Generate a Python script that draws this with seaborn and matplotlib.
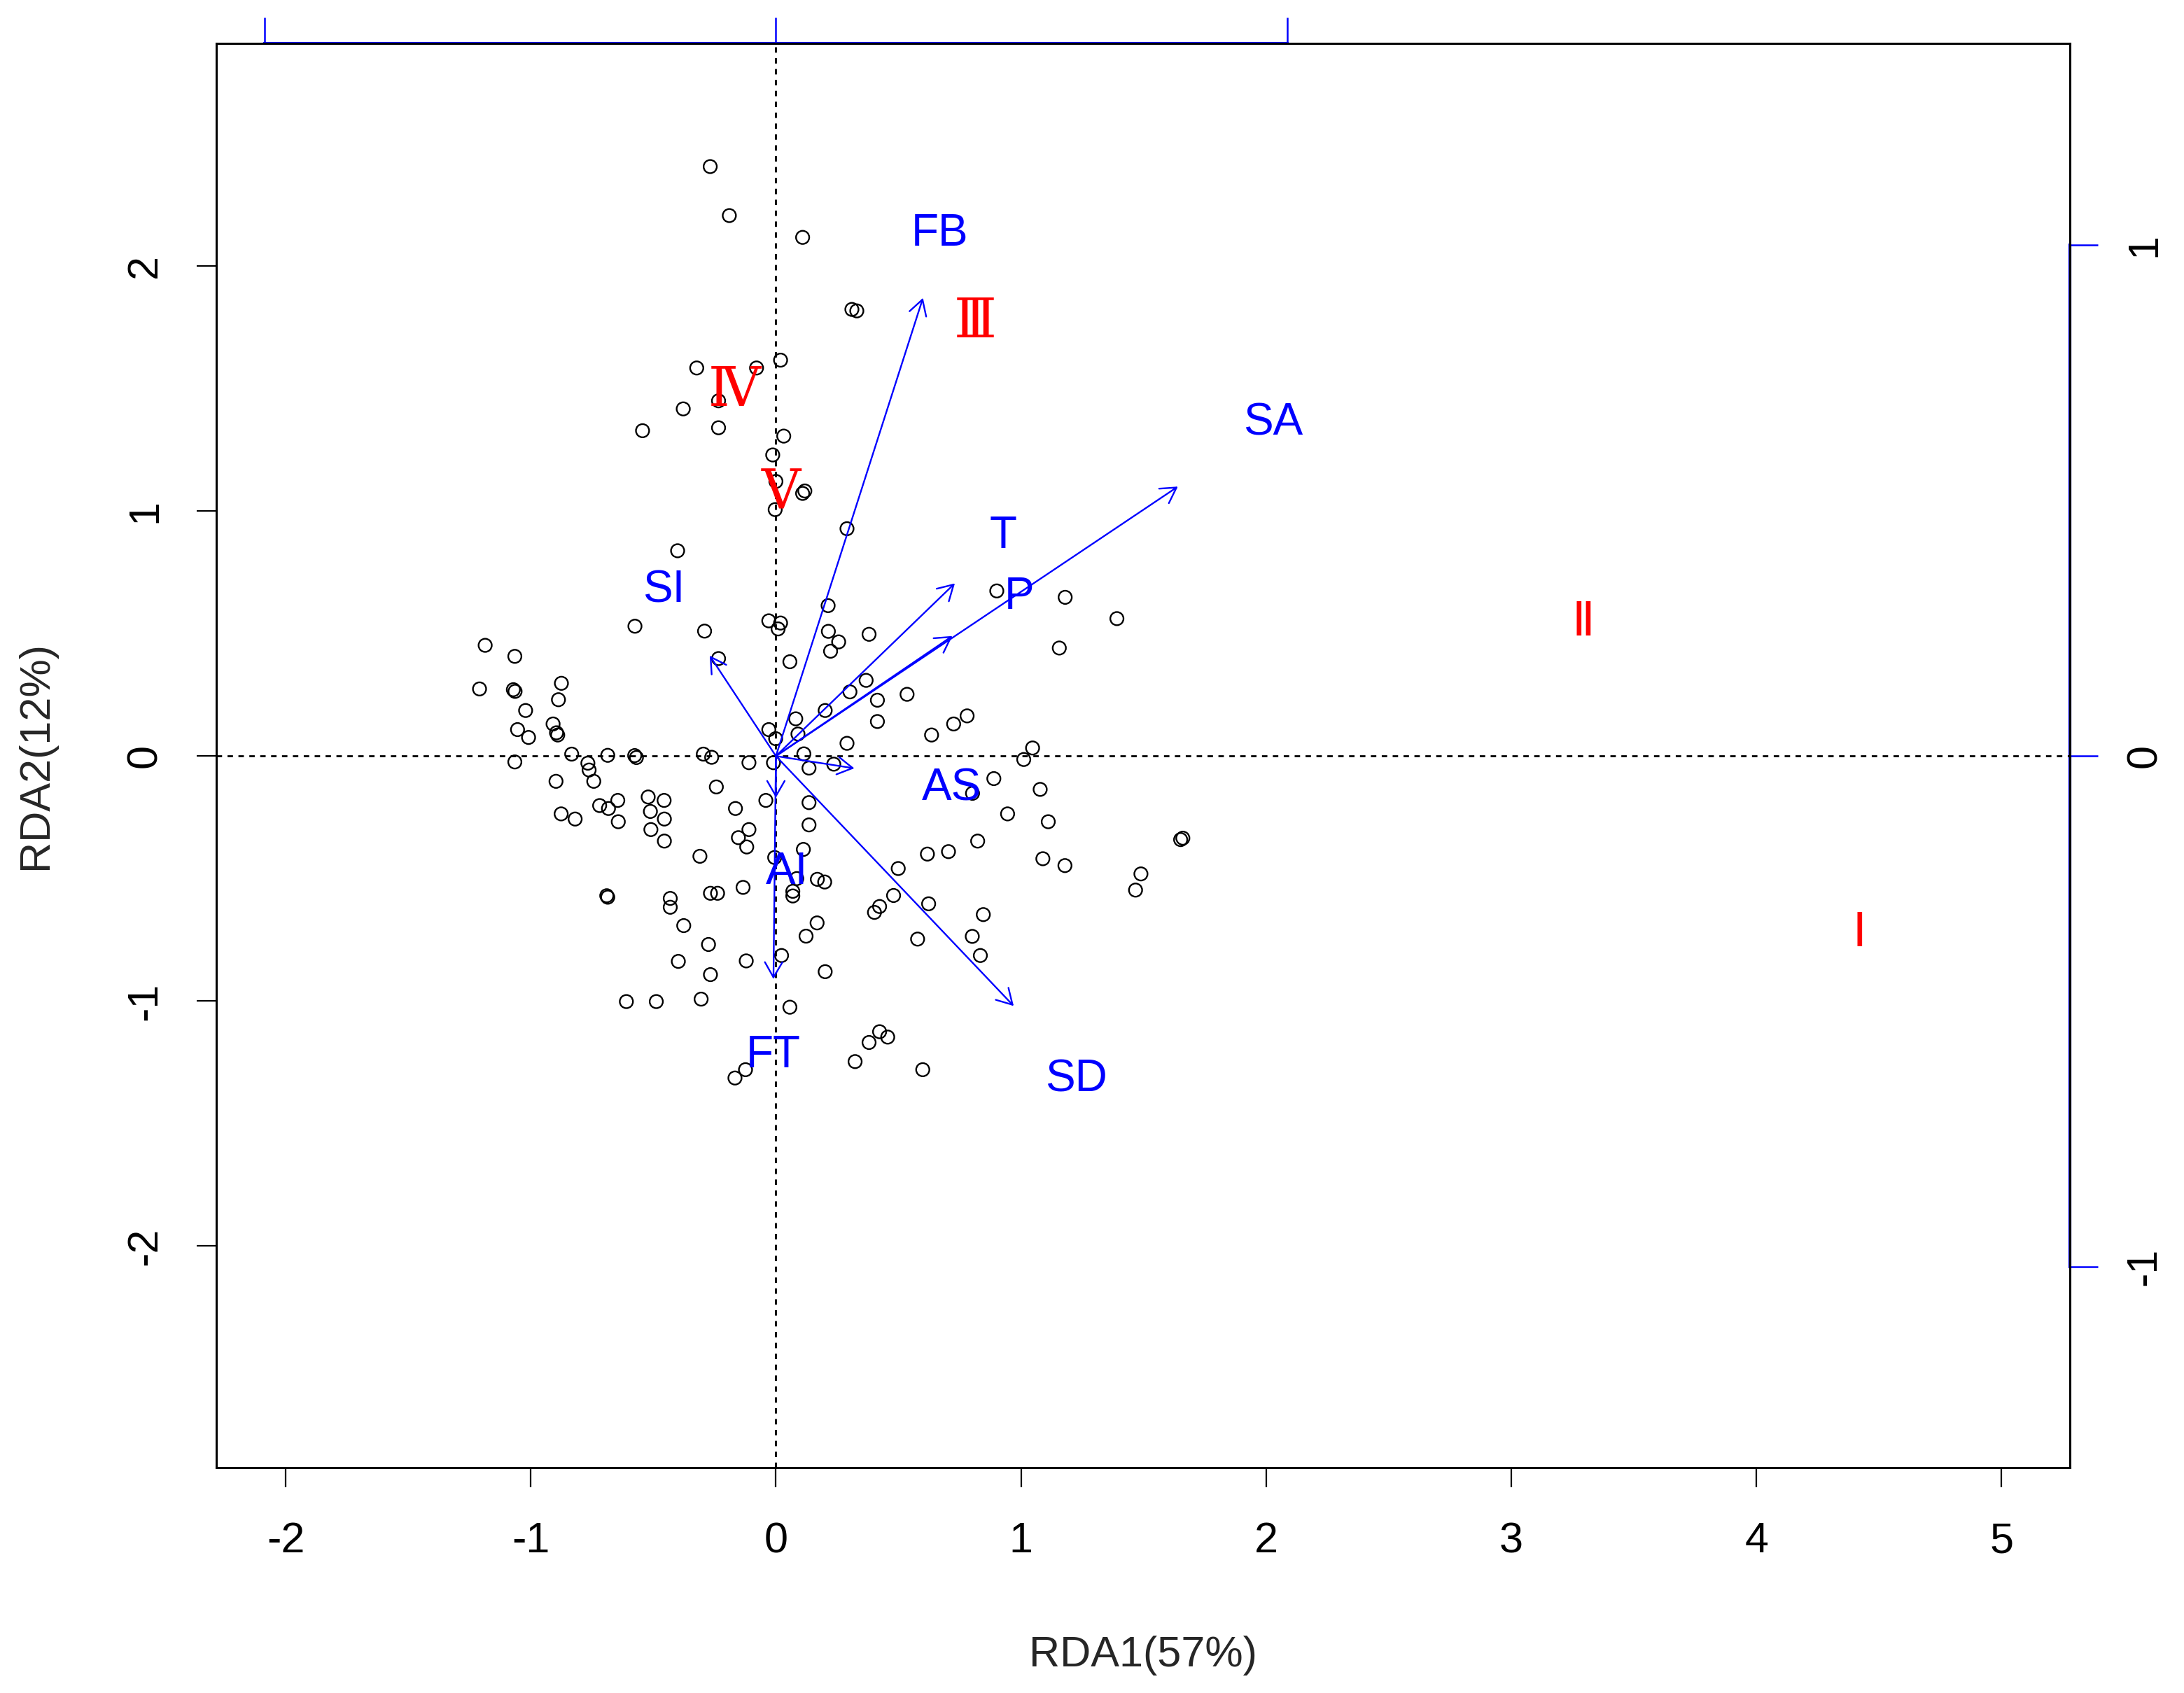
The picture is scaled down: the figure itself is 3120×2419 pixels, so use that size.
import matplotlib
matplotlib.use("Agg")
import matplotlib.pyplot as plt
import seaborn as sns

sns.set_style("white")
plt.rcParams['font.family'] = ['Liberation Sans', 'DejaVu Sans']
plt.rcParams['axes.unicode_minus'] = False

# site scores (RDA1, RDA2)
site_x = [-0.268, -0.190, 0.109, 0.310, 0.330, 0.019, -0.323, -0.079, -0.234, -0.378,
          -0.544, -0.234, 0.032, -0.013, 0.000, 0.109, 0.118, -0.003, 0.290, -0.401,
          0.213, 0.901, 1.180, 1.391, -0.575, -0.291, -1.186, -1.065, -1.209, -1.071,
          -1.064, -0.875, -0.887, -1.021, -1.054, -1.009, -0.909, -0.890, -0.895, -0.833,
          -1.065, -0.767, -0.762, -0.743, -0.686, -0.576, -0.569, -0.296, -0.897, -0.876,
          -0.819, -0.719, -0.683, -0.645, -0.643, -0.521, -0.512, -0.456, -0.455, -0.510,
          -0.455, -0.310, -0.029, 0.019, 0.009, -0.234, 0.057, 0.214, 0.256, 0.223,
          0.380, 0.368, 0.302, 0.414, 0.535, 0.414, 0.635, 0.201, 0.081, 0.090,
          -0.029, -0.001, 0.290, 0.114, -0.262, -0.110, -0.010, 0.135, 0.236, -0.243,
          -0.041, 0.135, -0.165, 0.135, -0.110, -0.153, -0.119, 0.112, 0.618, 0.704,
          -0.005, 1.156, 0.725, 0.780, 1.047, 1.011, 0.889, 1.078, 0.802, 0.945,
          1.111, 0.823, 1.089, 1.651, 1.660, -0.686, -0.690, -0.431, -0.431, -0.376,
          -0.398, -0.610, -0.488, -0.305, -0.275, -0.267, -0.267, -0.238, 0.169, 0.199,
          0.085, 0.069, 0.069, -0.134, 0.499, 0.480, 0.423, 0.402, 0.623, 0.578,
          0.168, 0.123, 0.023, -0.121, 0.201, 0.057, 0.423, 0.456, 0.380, 0.323,
          0.599, -0.124, -0.167, 1.179, 1.489, 1.467, 0.846, 0.801, 0.834]
site_y = [2.406, 2.206, 2.117, 1.823, 1.817, 1.616, 1.584, 1.584, 1.450, 1.417,
          1.328, 1.340, 1.306, 1.229, 1.121, 1.072, 1.082, 1.006, 0.928, 0.838,
          0.614, 0.674, 0.648, 0.561, 0.530, 0.510, 0.452, 0.407, 0.274, 0.271,
          0.264, 0.297, 0.230, 0.186, 0.108, 0.076, 0.131, 0.086, 0.095, 0.008,
          -0.024, -0.029, -0.057, -0.103, 0.003, 0.002, -0.006, 0.008, -0.103, -0.236,
          -0.257, -0.202, -0.214, -0.181, -0.268, -0.167, -0.226, -0.181, -0.257, -0.300,
          -0.347, -0.409, 0.552, 0.543, 0.519, 0.398, 0.385, 0.509, 0.466, 0.428,
          0.497, 0.309, 0.262, 0.228, 0.252, 0.141, 0.086, 0.186, 0.152, 0.090,
          0.108, 0.071, 0.052, 0.009, -0.005, -0.027, -0.027, -0.049, -0.033, -0.126,
          -0.181, -0.190, -0.214, -0.281, -0.300, -0.333, -0.371, -0.381, -0.400, -0.390,
          -0.414, 0.441, 0.131, 0.164, 0.033, -0.014, -0.092, -0.136, -0.152, -0.236,
          -0.268, -0.347, -0.419, -0.341, -0.335, -0.576, -0.570, -0.581, -0.617, -0.692,
          -0.838, -1.002, -1.002, -0.992, -0.769, -0.892, -0.560, -0.560, -0.503, -0.514,
          -0.500, -0.552, -0.571, -0.536, -0.459, -0.569, -0.614, -0.638, -0.603, -0.747,
          -0.681, -0.735, -0.814, -0.836, -0.880, -1.025, -1.125, -1.147, -1.169, -1.247,
          -1.280, -1.280, -1.314, -0.447, -0.481, -0.547, -0.647, -0.736, -0.814]

# environmental vectors (arrow tips) and their label positions
env_names = ['FB', 'SA', 'T', 'P', 'SI', 'AS', 'AI', 'FT', 'SD']
env_x = [0.60, 1.64, 0.73, 0.72, -0.27, 0.32, 0.00, -0.01, 0.97]
env_y = [1.87, 1.10, 0.705, 0.49, 0.41, -0.05, -0.17, -0.91, -1.02]
env_lab_x = [0.668, 2.028, 0.926, 0.992, -0.457, 0.716, 0.044, -0.011, 1.225]
env_lab_y = [2.132, 1.358, 0.898, 0.648, 0.675, -0.131, -0.474, -1.222, -1.321]

# group centroids
grp_names = ['Ⅰ', 'Ⅱ', 'Ⅲ', 'Ⅳ', 'Ⅴ']
grp_x = [4.421, 3.293, 0.813, -0.169, 0.021]
grp_y = [-0.721, 0.545, 1.773, 1.491, 1.074]

# top/right axes are the species scale: 1 unit there = 2.085 units here
axis_scale = 2.085

fig = plt.figure(figsize=(15.6, 12.095), dpi=200)
ax = fig.add_axes([0.0989, 0.1333, 0.8488, 0.8411])

ax.axhline(0, color='black', lw=1.0, ls=(0, (2.8, 2.8)), zorder=1)
ax.axvline(0, color='black', lw=1.0, ls=(0, (2.8, 2.8)), zorder=1)

sns.scatterplot(x=site_x, y=site_y, ax=ax, s=46, marker='o',
                facecolor='none', edgecolor='black', linewidth=0.85, zorder=3)

for name, x, y, lx, ly in zip(env_names, env_x, env_y, env_lab_x, env_lab_y):
    ax.annotate('', xy=(x, y), xytext=(0, 0),
                arrowprops=dict(arrowstyle='->,head_length=0.39,head_width=0.225',
                                color='blue', lw=0.85, mutation_scale=20,
                                shrinkA=0, shrinkB=0), zorder=4)
    ax.text(lx, ly, name, color='blue', fontsize=23, ha='center', va='center', zorder=5)

for name, x, y in zip(grp_names, grp_x, grp_y):
    if name in ('Ⅰ', 'Ⅱ'):
        fam, size = ['DejaVu Sans', 'Noto Sans CJK SC'], 24
    else:
        fam, size = ['DejaVu Serif', 'Noto Sans CJK SC'], 28
    ax.text(x, y, name, color='red', fontsize=size, ha='center', va='center',
            family=fam, zorder=5)

ax.set_xlim(-2.284, 5.278)
ax.set_ylim(-2.903, 2.909)
ax.set_xticks(range(-2, 6))
ax.set_yticks(range(-2, 3))
ax.tick_params(bottom=True, left=True, direction='out', length=10, width=0.8,
               labelsize=22, colors='black')
ax.tick_params(axis='x', pad=18)
ax.tick_params(axis='y', pad=16, labelrotation=90)
for lab in ax.get_yticklabels():
    lab.set_va('center')
for sp in ax.spines.values():
    sp.set_visible(True)
    sp.set_color('black')
    sp.set_linewidth(1.1)

ax.set_xlabel('RDA1(57%)', fontsize=22)
ax.xaxis.set_label_coords(0.5, -0.132)
ax.xaxis.label.set_va('center')
ax.set_ylabel('RDA2(12%)', fontsize=22)
ax.yaxis.set_label_coords(-0.097, 0.5)
ax.yaxis.label.set_va('center')

secx = ax.secondary_xaxis('top', functions=(lambda v: v / axis_scale, lambda v: v * axis_scale))
secx.set_xticks([-1, 0, 1])
secx.tick_params(top=True, direction='out', length=13.3, width=0.9, color='blue', labeltop=False)
secx.spines['top'].set_color('blue')
secx.spines['top'].set_linewidth(1.5)
secx.spines['top'].set_bounds(-1, 1)

secy = ax.secondary_yaxis('right', functions=(lambda v: v / axis_scale, lambda v: v * axis_scale))
secy.set_yticks([-1, 0, 1])
secy.tick_params(right=True, direction='out', length=14.4, width=0.9, color='blue',
                 labelcolor='black', labelsize=22, pad=14, labelrotation=90)
for lab in secy.get_yticklabels():
    lab.set_va('center')
secy.spines['right'].set_color('blue')
secy.spines['right'].set_linewidth(1.5)
secy.spines['right'].set_bounds(-1, 1)

fig.savefig('out.png', dpi=200, facecolor='white')
